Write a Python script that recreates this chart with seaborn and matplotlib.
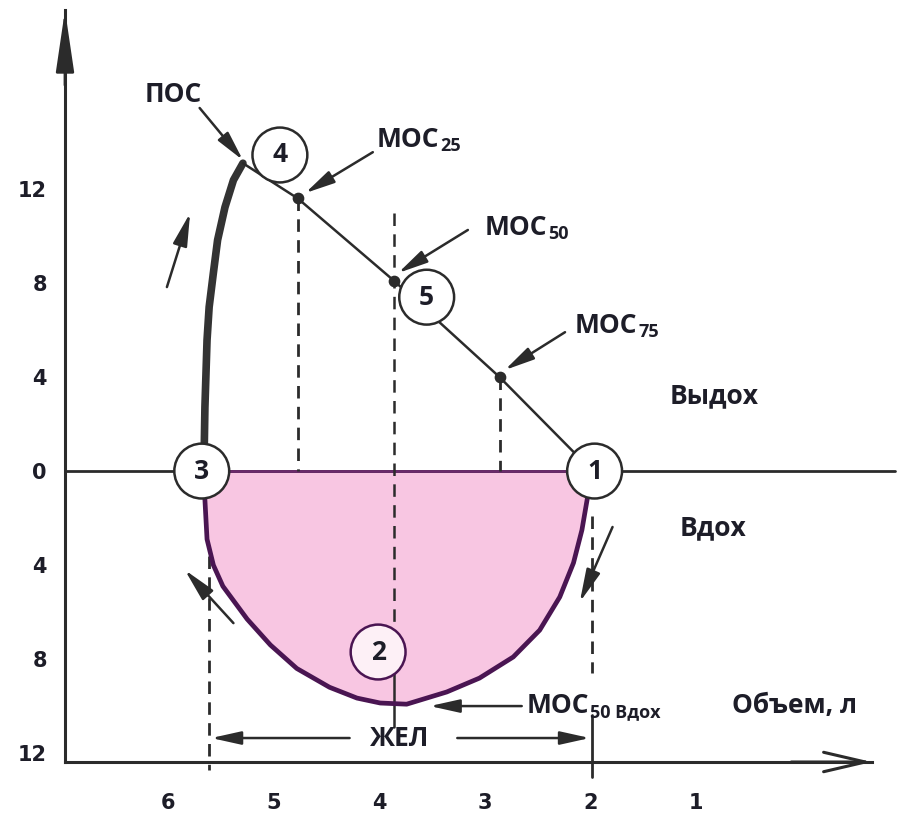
import matplotlib
matplotlib.use("Agg")
import matplotlib.pyplot as plt
import seaborn as sns

# ---- data -------------------------------------------------------------
vol_ticks = [6, 5, 4, 3, 2, 1]
flow_ticks = [12, 8, 4, 0, -4, -8, -12]
flow_ticklabels = ["12", "8", "4", "0", "4", "8", "12"]

# rising limb of forced expiration (volume, l; flow, l/s)
rise_vol = [5.66, 5.65, 5.63, 5.61, 5.57, 5.53, 5.46, 5.38, 5.29]
rise_flow = [0.0, 2.72, 5.57, 6.98, 8.43, 9.83, 11.23, 12.38, 13.10]

# falling limb of forced expiration: peak, МОС25, МОС50, МОС75, end
fall_vol = [5.29, 4.77, 3.86, 2.86, 1.98]
fall_flow = [13.10, 11.6, 8.1, 4.0, 0.0]

# forced inspiration (drawn below the zero line)
insp_vol = [5.66, 5.65, 5.63, 5.57, 5.48, 5.25, 5.03, 4.78, 4.47, 4.21, 3.99,
            3.74, 3.36, 3.05, 2.73, 2.48, 2.29, 2.16, 2.08, 2.02, 1.99]
insp_flow = [0.0, -1.23, -2.9, -4.0, -4.9, -6.3, -7.4, -8.4, -9.2, -9.66, -9.87,
             -9.92, -9.40, -8.81, -7.91, -6.77, -5.36, -3.91, -2.51, -0.94, 0.0]

# МОС markers on the falling limb
moc_vol = [4.77, 3.86, 2.86]
moc_flow = [11.6, 8.1, 4.0]

# numbered reference points
circ_labels = ["1", "2", "3", "4", "5"]
circ_vol = [1.96, 4.01, 5.68, 4.94, 3.55]
circ_flow = [0.0, -7.70, 0.0, 13.45, 7.40]

# vital capacity limits
zhel_left = 5.61
zhel_right = 1.985

# ---- style ------------------------------------------------------------
sns.set_style("white")
plt.rcParams["font.family"] = ["Open Sans", "DejaVu Sans"]
plt.rcParams["lines.scale_dashes"] = False

ink = "#2b2b2b"
txt = "#1d1d28"
purple = "#4a1552"
pink = "#f8c6e2"
fs = 19
fw = "bold"

fig = plt.figure(figsize=(9.01, 8.18), dpi=100)
ax = fig.add_axes([65 / 901, 56 / 818, 807 / 901, 752 / 818])
ax.set_xlim(6.975, -0.667)
ax.set_ylim(-12.38, 19.62)

# axes, ticks
for s in ("top", "right"):
    ax.spines[s].set_visible(False)
for s in ("left", "bottom"):
    ax.spines[s].set_linewidth(2.2)
    ax.spines[s].set_color(ink)
ax.set_xticks(vol_ticks)
ax.set_yticks(flow_ticks)
ax.set_yticklabels(flow_ticklabels)
ax.tick_params(axis="x", direction="out", length=10, width=2.0, color=ink, pad=12)
ax.tick_params(axis="y", direction="out", length=12, width=2.0, color=ink, pad=1)
for lbl in ax.get_xticklabels() + ax.get_yticklabels():
    lbl.set_family("DejaVu Sans")
    lbl.set_fontweight("bold")
    lbl.set_fontsize(15)
    lbl.set_color(txt)

ax.annotate("", xy=(0, 1), xycoords="axes fraction", xytext=(0, 0.9),
            arrowprops=dict(arrowstyle="-|>,head_length=1.9,head_width=0.28",
                            color=ink, lw=2, mutation_scale=20,
                            shrinkA=0, shrinkB=0))
ax.annotate("", xy=(1, 0), xycoords="axes fraction", xytext=(0.9, 0),
            arrowprops=dict(arrowstyle="->,head_length=1.5,head_width=0.35",
                            color=ink, lw=2.2, mutation_scale=20,
                            shrinkA=0, shrinkB=0))

# zero-flow line
ax.plot([6.975, -0.885], [0, 0], color=ink, lw=2.0, clip_on=False, zorder=2)

# inspiration loop
ax.fill_between(insp_vol, insp_flow, 0, color=pink, lw=0, zorder=1)
ax.plot([insp_vol[0], insp_vol[-1]], [0, 0], color="#6b2a6b", lw=2.0, zorder=2)
sns.lineplot(x=insp_vol, y=insp_flow, sort=False, estimator=None, ax=ax,
             color=purple, lw=3.4, zorder=3)

# expiration
sns.lineplot(x=rise_vol, y=rise_flow, sort=False, estimator=None, ax=ax,
             color="#333333", lw=5.5, zorder=3, solid_capstyle="round")
sns.lineplot(x=fall_vol, y=fall_flow, sort=False, estimator=None, ax=ax,
             color=ink, lw=1.8, zorder=3)

# guide lines
dash = (0, (9, 6))
ax.plot([moc_vol[0], moc_vol[0]], [moc_flow[0], 0], color=ink, lw=2, ls=dash, zorder=2)
ax.plot([moc_vol[2], moc_vol[2]], [moc_flow[2], 0], color=ink, lw=2, ls=dash, zorder=2)
ax.plot([moc_vol[1], moc_vol[1]], [11.0, -7.5], color=ink, lw=1.8, ls=dash, zorder=2)
ax.plot([moc_vol[1], moc_vol[1]], [-8.6, -10.9], color=ink, lw=1.8, zorder=2)
ax.plot([zhel_left, zhel_left], [-3.6, -12.7], color=ink, lw=2, ls=dash, zorder=2,
        clip_on=False)
ax.plot([zhel_right, zhel_right], [-1.9, -8.6], color=ink, lw=2, ls=dash, zorder=2)
ax.plot([zhel_right, zhel_right], [-10.4, -13.0], color=ink, lw=2, zorder=2,
        clip_on=False)

ax.scatter(moc_vol, moc_flow, s=55, color=ink, zorder=5)

# numbered circles
faces = ["white", "#fdf0f6", "white", "white", "white"]
edges = [ink, purple, ink, ink, ink]
ax.scatter(circ_vol, circ_flow, s=1560, facecolor=faces, edgecolor=edges,
           linewidths=1.8, zorder=6)
for lab, v, f in zip(circ_labels, circ_vol, circ_flow):
    ax.text(v, f, lab, ha="center", va="center", fontsize=fs, color=txt,
            fontweight=fw, zorder=7)


def pointer(x0, y0, x1, y1, hl=0.9, hw=0.2, lw=1.8):
    ax.annotate("", xy=(x1, y1), xytext=(x0, y0),
                arrowprops=dict(arrowstyle=f"-|>,head_length={hl},head_width={hw}",
                                color=ink, lw=lw, mutation_scale=20,
                                shrinkA=0, shrinkB=0), zorder=4)


def label(x, y, main, sub=None, ha="left"):
    t = ax.text(x, y, main, ha=ha, va="baseline", fontsize=fs, fontweight=fw,
                color=txt, zorder=7)
    if sub:
        ax.annotate(sub, xy=(1, 0), xycoords=t, xytext=(0.5, -1.5),
                    textcoords="offset points", ha="left", va="bottom",
                    fontsize=13, fontweight=fw, color=txt, zorder=7)
    return t


# text labels
label(5.95, 15.7, "ПОС", ha="center")
label(4.02, 13.79, "МОС", "25")
label(3.00, 10.04, "МОС", "50")
label(2.146, 5.87, "МОС", "75")
label(1.246, 2.9, "Выдох")
label(1.15, -2.75, "Вдох")
label(2.60, -10.3, "МОС", "50 Вдох")
label(0.66, -10.3, "Объем, л")
label(3.81, -11.7, "ЖЕЛ", ha="center")

# pointers
pointer(5.70, 15.45, 5.29, 13.23)
pointer(4.06, 13.57, 4.70, 11.83)
pointer(3.16, 10.26, 3.82, 8.43)
pointer(2.24, 5.91, 2.81, 4.30)
pointer(2.65, -10.0, 3.52, -10.0)
pointer(4.28, -11.36, zhel_left - 0.02, -11.36)
pointer(3.26, -11.36, zhel_right + 0.02, -11.36)

# direction of travel around the loop
pointer(6.01, 7.83, 5.79, 10.98, hl=1.0, hw=0.22)
pointer(5.38, -6.47, 5.84, -4.21, hl=1.0, hw=0.22)
pointer(1.79, -2.38, 2.10, -5.57, hl=1.0, hw=0.22)

fig.savefig("out.png", dpi=100, facecolor="white")
